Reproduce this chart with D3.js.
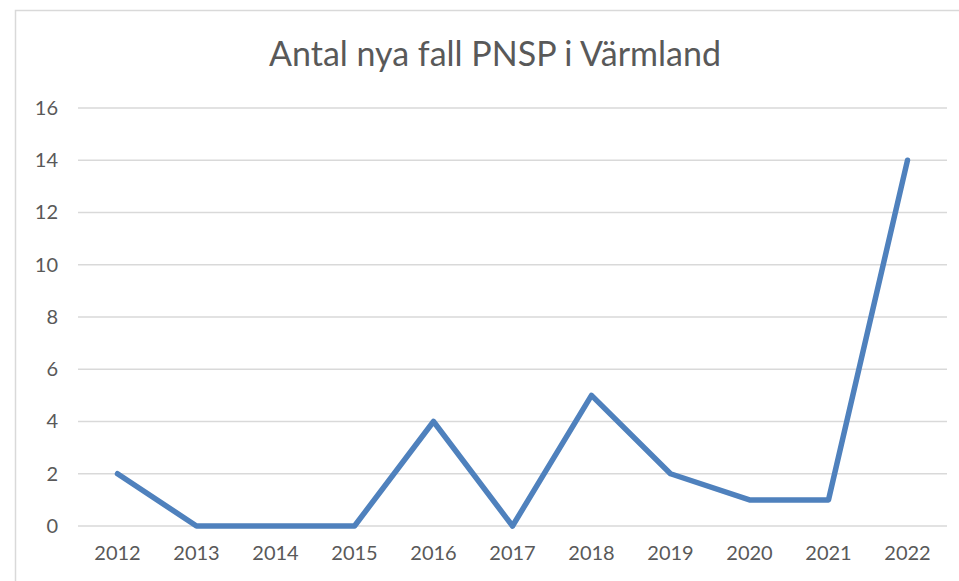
<!DOCTYPE html>
<html>
<head>
<meta charset="utf-8">
<script src="https://cdn.jsdelivr.net/npm/d3@7"></script>
<style>
  body { margin: 0; background: #fff; }
  .axis text { font-family: Lato, "Open Sans", sans-serif; fill: #595959; }
</style>
</head>
<body>
<div id="chart"></div>
<script>
// Data
const years = ['2012', '2013', '2014', '2015', '2016', '2017', '2018', '2019', '2020', '2021', '2022'];
const cases = [2, 0, 0, 0, 4, 0, 5, 2, 1, 1, 14];
const yTicks = [0, 2, 4, 6, 8, 10, 12, 14, 16];
const title = 'Antal nya fall PNSP i Värmland';

const W = 959, H = 581;
const plot = { left: 78, right: 947, top: 108, bottom: 526 };

const svg = d3.select('#chart').append('svg')
  .attr('width', W)
  .attr('height', H);

// Ram runt diagrammet (beskuren till höger och nedtill)
svg.append('rect')
  .attr('x', 15.5).attr('y', 10.5)
  .attr('width', 980).attr('height', 600)
  .attr('fill', '#fff')
  .attr('stroke', '#d9d9d9')
  .attr('stroke-width', 1.5);

// Skalor
const x = d3.scaleBand()
  .domain(years)
  .range([plot.left, plot.right]);

const y = d3.scaleLinear()
  .domain([0, 16])
  .range([plot.bottom, plot.top]);

// Rutnät
svg.append('g')
  .selectAll('line')
  .data(yTicks)
  .join('line')
  .attr('x1', plot.left).attr('x2', plot.right)
  .attr('y1', d => y(d)).attr('y2', d => y(d))
  .attr('stroke', '#d9d9d9')
  .attr('stroke-width', 1.5);

// Y-axel
const yAxis = svg.append('g')
  .attr('class', 'axis')
  .attr('transform', `translate(${plot.left - 20},0)`)
  .call(d3.axisLeft(y).tickValues(yTicks).tickSize(0).tickPadding(0));
yAxis.select('.domain').remove();
yAxis.selectAll('text').style('font-size', '20px');

// X-axel
const xAxis = svg.append('g')
  .attr('class', 'axis')
  .attr('transform', `translate(0,${plot.bottom})`)
  .call(d3.axisBottom(x).tickSize(0).tickPadding(20));
xAxis.select('.domain').remove();
xAxis.selectAll('text').style('font-size', '20px');

// Linje
const line = d3.line()
  .x((d, i) => x(years[i]) + x.bandwidth() / 2)
  .y(d => y(d));

svg.append('path')
  .datum(cases)
  .attr('d', line)
  .attr('fill', 'none')
  .attr('stroke', '#4f81bd')
  .attr('stroke-width', 5.5)
  .attr('stroke-linejoin', 'round')
  .attr('stroke-linecap', 'round');

// Titel
svg.append('text')
  .attr('x', 495)
  .attr('y', 66)
  .attr('text-anchor', 'middle')
  .style('font-family', 'Lato, "Open Sans", sans-serif')
  .style('font-size', '34px')
  .style('fill', '#595959')
  .text(title);
</script>
</body>
</html>
